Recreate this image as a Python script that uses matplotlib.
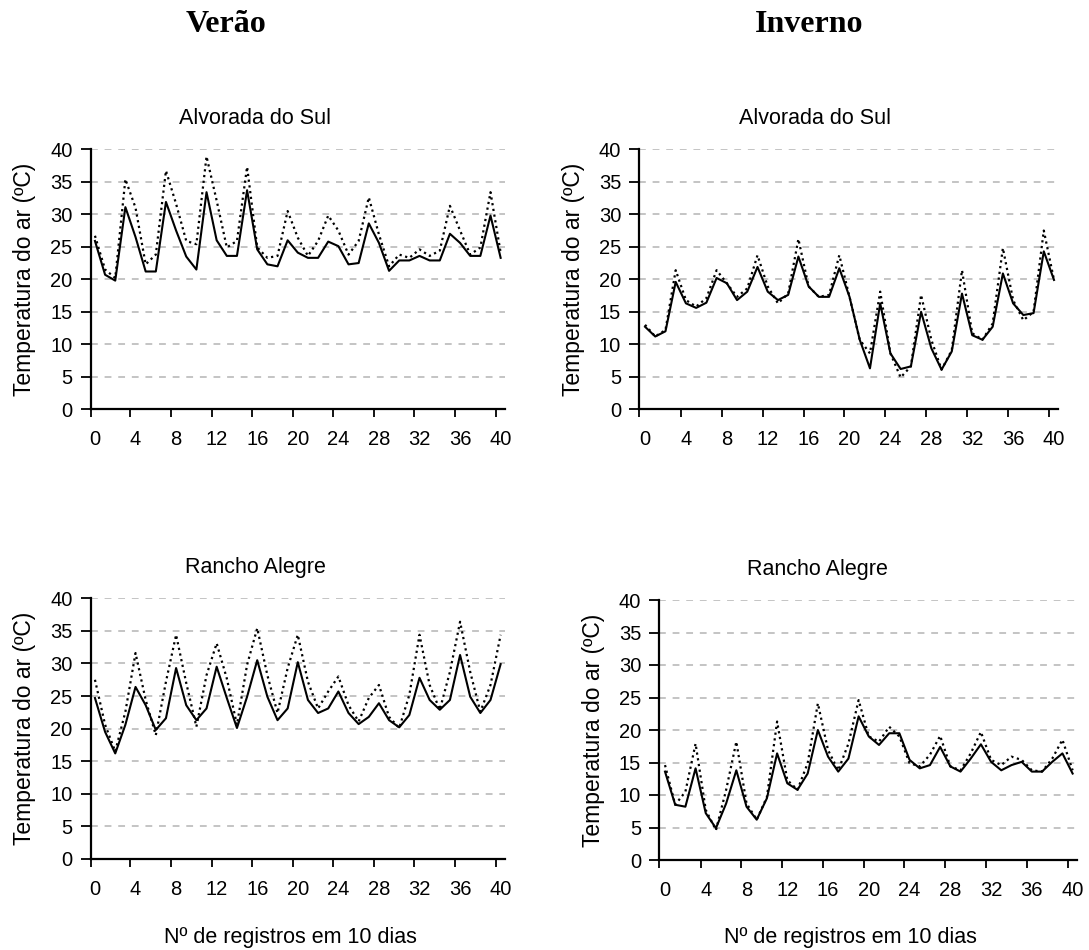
import matplotlib
matplotlib.use("Agg")
import matplotlib.pyplot as plt
import numpy as np

# Registros (0..40) e temperatura do ar em ºC, duas séries por local
registros = list(range(41))

verao_alvorada_a = [25.9, 20.7, 19.8, 31.1, 26.5, 21.2, 21.2, 31.9, 27.5, 23.5,
                    21.5, 33.4, 26.0, 23.6, 23.6, 33.7, 24.6, 22.3, 22.0, 26.0,
                    24.1, 23.3, 23.3, 25.8, 25.1, 22.3, 22.5, 28.6, 25.6, 21.3,
                    22.9, 22.9, 23.6, 22.9, 22.9, 27.0, 25.6, 23.6, 23.6, 29.8,
                    23.3]
verao_alvorada_b = [26.7, 21.5, 20.2, 35.4, 31.0, 22.3, 23.8, 36.7, 31.6, 25.9,
                    25.4, 38.9, 32.1, 24.9, 25.9, 37.3, 24.9, 23.3, 23.6, 30.5,
                    26.4, 23.6, 25.9, 29.8, 27.5, 23.8, 25.9, 32.6, 26.9, 22.0,
                    23.8, 23.3, 24.6, 23.6, 24.4, 31.3, 27.5, 23.8, 24.9, 33.4,
                    24.1]

inverno_alvorada_a = [12.7, 11.2, 12.0, 19.6, 16.3, 15.6, 16.4, 20.2, 19.4, 16.8,
                      18.1, 21.9, 18.1, 16.8, 17.6, 23.5, 18.9, 17.3, 17.3, 21.7,
                      17.3, 10.7, 6.3, 16.3, 8.6, 6.2, 6.6, 15.0, 9.4, 6.1,
                      8.9, 17.8, 11.4, 10.7, 12.7, 20.9, 16.3, 14.5, 14.8, 24.3,
                      19.9]
inverno_alvorada_b = [13.0, 11.2, 12.2, 21.4, 16.8, 15.8, 17.1, 21.4, 19.4, 17.3,
                      18.6, 23.7, 18.9, 16.3, 17.8, 26.2, 18.9, 17.3, 17.6, 23.7,
                      17.3, 10.7, 8.6, 18.1, 8.6, 4.9, 6.6, 17.6, 10.7, 6.1,
                      9.1, 21.4, 11.7, 10.7, 13.2, 24.8, 16.8, 13.7, 15.0, 27.5,
                      19.9]

verao_rancho_a = [24.7, 19.5, 16.2, 20.6, 26.4, 23.6, 19.8, 21.6, 29.3, 23.6,
                  21.3, 23.1, 29.5, 24.7, 20.1, 24.9, 30.5, 24.9, 21.3, 23.1,
                  30.2, 24.4, 22.4, 23.1, 25.7, 22.4, 20.7, 21.8, 23.9, 21.3,
                  20.2, 22.1, 27.8, 24.4, 22.9, 24.4, 31.3, 24.9, 22.4, 24.4,
                  29.9]
verao_rancho_b = [27.5, 20.6, 16.5, 22.6, 31.6, 24.4, 19.0, 27.2, 34.4, 27.0,
                  20.3, 28.2, 33.1, 27.7, 20.6, 29.8, 35.4, 28.2, 22.4, 29.3,
                  34.4, 27.2, 23.1, 25.7, 28.0, 23.6, 21.1, 24.7, 26.7, 21.8,
                  20.1, 25.2, 34.4, 26.7, 22.9, 28.7, 36.4, 28.7, 22.6, 26.7,
                  34.4]

inverno_rancho_a = [13.6, 8.5, 8.2, 14.1, 7.2, 4.9, 8.7, 13.8, 8.2, 6.2,
                    9.5, 16.4, 11.8, 10.8, 13.3, 20.0, 15.9, 13.6, 15.6, 22.1,
                    19.0, 17.7, 19.5, 19.5, 15.4, 14.1, 14.6, 17.4, 14.4, 13.6,
                    15.6, 17.8, 15.1, 13.8, 14.6, 15.1, 13.6, 13.6, 15.1, 16.4,
                    13.3]
inverno_rancho_b = [14.6, 8.5, 10.5, 17.9, 7.7, 4.6, 10.8, 18.2, 8.7, 6.2,
                    9.7, 21.3, 12.3, 10.8, 14.9, 24.1, 16.9, 13.8, 17.9, 24.6,
                    19.0, 18.2, 20.5, 19.0, 14.9, 14.4, 16.2, 19.1, 14.4, 13.8,
                    16.4, 19.7, 15.4, 14.6, 15.9, 15.4, 13.8, 13.6, 15.6, 18.5,
                    13.8]

estacoes = ["Verão", "Inverno"]
locais = ["Alvorada do Sul", "Rancho Alegre"]
ylabel = "Temperatura do ar (ºC)"
xlabel = "Nº de registros em 10 dias"

plt.rcParams['font.family'] = ['Liberation Sans', 'DejaVu Sans']

W, H = 1089, 950
fig = plt.figure(figsize=(W / 100, H / 100), dpi=100)


def px_axes(x0, y_top, x1, y_bot):
    return fig.add_axes([x0 / W, 1 - y_bot / H, (x1 - x0) / W, (y_bot - y_top) / H])


def painel(ax, xlim, a, b):
    ax.plot(registros, b, color="black", lw=1.6, ls=(0, (1, 1.6)),
            solid_capstyle="round", zorder=3)
    ax.plot(registros, a, color="black", lw=1.5, zorder=4)
    ax.set_xlim(*xlim)
    ax.set_ylim(0, 40)
    ax.set_yticks(range(0, 41, 5))
    ax.set_xticks(range(0, 41, 4))
    ax.set_xticks([xlim[0]] + [4 * k - 0.5 for k in range(1, 11)], minor=True)
    ax.tick_params(axis="x", which="major", length=0, pad=15, labelsize=14.5)
    ax.tick_params(axis="x", which="minor", length=6, width=1.3, direction="out")
    ax.tick_params(axis="y", length=7, width=1.3, direction="out", pad=6,
                   labelsize=14.5)
    for s in ("top", "right"):
        ax.spines[s].set_visible(False)
    for s in ("left", "bottom"):
        ax.spines[s].set_linewidth(1.6)
    ax.yaxis.grid(True, color="#c4c4c4", lw=1.4, ls=(0, (3.5, 3.5)))
    ax.set_axisbelow(True)
    ax.set_ylabel(ylabel, fontsize=16.5, labelpad=10)


ax_tl = px_axes(90.7, 149.3, 505, 409.3)
painel(ax_tl, (-0.42, 40.43), verao_alvorada_a, verao_alvorada_b)
ax_tr = px_axes(639.3, 149.3, 1058, 409.3)
painel(ax_tr, (-0.56, 40.39), inverno_alvorada_a, inverno_alvorada_b)
ax_bl = px_axes(90.7, 598.3, 505, 859)
painel(ax_bl, (-0.42, 40.43), verao_rancho_a, verao_rancho_b)
ax_br = px_axes(659.3, 600, 1077, 860)
painel(ax_br, (-0.56, 40.43), inverno_rancho_a, inverno_rancho_b)

# títulos das colunas
fig.text(226 / W, 1 - 25 / H, estacoes[0], ha="center", va="center",
         fontsize=23, fontweight="bold", family="Liberation Serif")
fig.text(809 / W, 1 - 25 / H, estacoes[1], ha="center", va="center",
         fontsize=23, fontweight="bold", family="Liberation Serif")

# nomes dos locais
fig.text(255 / W, 1 - 119 / H, locais[0], ha="center", va="center", fontsize=15.5)
fig.text(815 / W, 1 - 119 / H, locais[0], ha="center", va="center", fontsize=15.5)
fig.text(255 / W, 1 - 567 / H, locais[1], ha="center", va="center", fontsize=15.5)
fig.text(817 / W, 1 - 570 / H, locais[1], ha="center", va="center", fontsize=15.5)

fig.text(290 / W, 1 - 937 / H, xlabel, ha="center", va="center", fontsize=15.5)
fig.text(850 / W, 1 - 937 / H, xlabel, ha="center", va="center", fontsize=15.5)

fig.savefig("out.png", dpi=100)
